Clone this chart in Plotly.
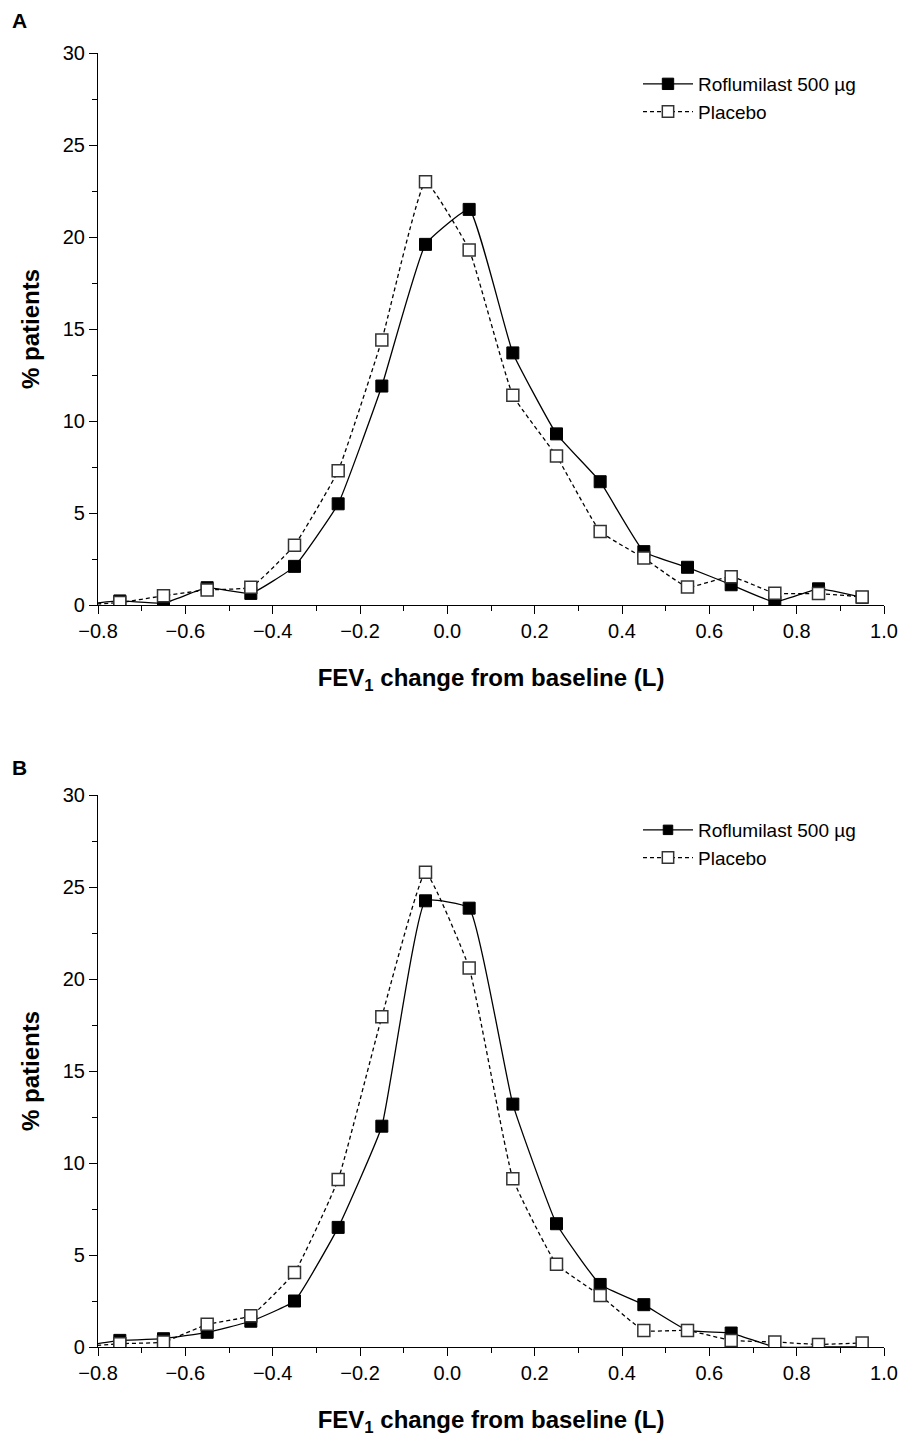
import plotly.graph_objects as go

# ---------------- data ----------------
bins = [-0.85, -0.75, -0.65, -0.55, -0.45, -0.35, -0.25, -0.15, -0.05,
        0.05, 0.15, 0.25, 0.35, 0.45, 0.55, 0.65, 0.75, 0.85, 0.95]

a_roflumilast = [0, 0.22, 0.1, 0.94, 0.63, 2.1, 5.5, 11.9, 19.6,
                 21.5, 13.7, 9.3, 6.7, 2.9, 2.05, 1.1, 0.16, 0.88, 0.42]
a_placebo = [0, 0.13, 0.5, 0.82, 0.96, 3.25, 7.3, 14.4, 23.0,
             19.3, 11.4, 8.1, 4.0, 2.55, 0.98, 1.54, 0.64, 0.62, 0.44]

b_roflumilast = [0, 0.36, 0.45, 0.8, 1.4, 2.5, 6.5, 12.0, 24.25,
                 23.85, 13.2, 6.7, 3.4, 2.3, 0.9, 0.76, 0, 0, 0]
b_placebo = [0, 0.18, 0.27, 1.23, 1.7, 4.05, 9.1, 17.95, 25.8,
             20.6, 9.15, 4.5, 2.8, 0.9, 0.9, 0.36, 0.27, 0.14, 0.22]

series_names = ["Roflumilast 500 \u00b5g", "Placebo"]
panel_labels = ["A", "B"]

x_ticks = [-0.8, -0.6, -0.4, -0.2, 0.0, 0.2, 0.4, 0.6, 0.8, 1.0]
x_tick_labels = ["\u22120.8", "\u22120.6", "\u22120.4", "\u22120.2", "0.0",
                 "0.2", "0.4", "0.6", "0.8", "1.0"]
y_ticks = [0, 5, 10, 15, 20, 25, 30]
y_tick_labels = ["0", "5", "10", "15", "20", "25", "30"]

x_title = "<b>FEV<sub>1</sub> change from baseline (L)</b>"
y_title = "<b>% patients</b>"

# ---------------- layout geometry (pixels) ----------------
W, H = 903, 1437
ML, MR, MT, MB = 98, 19, 53, 90
PW, PH = W - ML - MR, H - MT - MB
FONT = "Liberation Sans, Arial, Helvetica, sans-serif"


def px_x(x):
    return (x - ML) / PW


def px_y(y):
    return (H - MB - y) / PH


y_doms = [[px_y(605), px_y(53)], [px_y(1347), px_y(795)]]
legend_tops = [65, 811]
label_tops = [20, 767]

fig = go.Figure()

panels = [(a_roflumilast, a_placebo), (b_roflumilast, b_placebo)]
for i, (rof, pla) in enumerate(panels):
    xa = "x" if i == 0 else "x2"
    ya = "y" if i == 0 else "y2"
    leg = "legend" if i == 0 else "legend2"
    rof_sizes = [12 if v > 0 else 0 for v in rof]
    pla_sizes = [12 if v > 0 else 0 for v in pla]
    fig.add_trace(go.Scatter(
        x=bins, y=rof, name=series_names[0], mode="lines+markers",
        xaxis=xa, yaxis=ya, legend=leg, legendgroup="r%d" % i,
        line=dict(color="black", width=1.3, shape="spline", smoothing=0.35),
        marker=dict(symbol="square", size=rof_sizes, color="black", opacity=1,
                    line=dict(color="black", width=1)),
    ))
    fig.add_trace(go.Scatter(
        x=bins, y=pla, name=series_names[1], mode="lines+markers",
        xaxis=xa, yaxis=ya, legend=leg, legendgroup="p%d" % i,
        line=dict(color="black", width=1.3, dash="4px,3px", shape="spline", smoothing=0.35),
        marker=dict(symbol="square", size=pla_sizes, color="white", opacity=1,
                    line=dict(color="#333333", width=1.5)),
    ))

axis_common = dict(
    showline=True, linecolor="black", linewidth=1.2,
    ticks="outside", ticklen=8, tickwidth=1.2, tickcolor="black",
    showgrid=False, zeroline=False, automargin=False,
    ticklabeloverflow="allow",
    tickfont=dict(family=FONT, size=20, color="black"),
)

for i in range(2):
    sx = "" if i == 0 else "2"
    fig.update_layout(**{
        "xaxis" + sx: dict(
            axis_common, domain=[0, 1], range=[-0.8, 1.0], anchor="y" + sx,
            tickmode="array", tickvals=x_ticks, ticktext=x_tick_labels,
            minor=dict(ticks="outside", ticklen=5, tickwidth=1.2, tickcolor="black",
                       tick0=-0.8, dtick=0.1),
            title=dict(text=x_title, standoff=28,
                       font=dict(family=FONT, size=24, color="black")),
        ),
        "yaxis" + sx: dict(
            axis_common, domain=y_doms[i], range=[0, 30], anchor="x" + sx,
            tickmode="array", tickvals=y_ticks, ticktext=y_tick_labels,
            minor=dict(ticks="outside", ticklen=5, tickwidth=1.2, tickcolor="black",
                       tick0=0, dtick=2.5),
            title=dict(text=y_title, standoff=16,
                       font=dict(family=FONT, size=24, color="black")),
        ),
    })

legend_common = dict(
    xanchor="left", yanchor="top", bgcolor="rgba(0,0,0,0)",
    font=dict(family=FONT, size=19, color="black"),
    itemwidth=50, tracegroupgap=0, traceorder="grouped",
)
fig.update_layout(
    legend=dict(legend_common, x=px_x(638), y=px_y(legend_tops[0])),
    legend2=dict(legend_common, x=px_x(638), y=px_y(legend_tops[1])),
)

for i, lab in enumerate(panel_labels):
    fig.add_annotation(
        text="<b>%s</b>" % lab, xref="paper", yref="paper",
        x=px_x(10), y=px_y(label_tops[i]), xanchor="left", yanchor="middle",
        showarrow=False, font=dict(family=FONT, size=21, color="black"),
    )

fig.update_layout(
    width=W, height=H, margin=dict(l=ML, r=MR, t=MT, b=MB, autoexpand=False),
    paper_bgcolor="white", plot_bgcolor="white",
    font=dict(family=FONT, color="black"),
    showlegend=True,
)

fig.write_html(
    "out.html",
    config={"displayModeBar": False},
    post_script="document.body.style.margin='0';document.body.style.padding='0';",
)
